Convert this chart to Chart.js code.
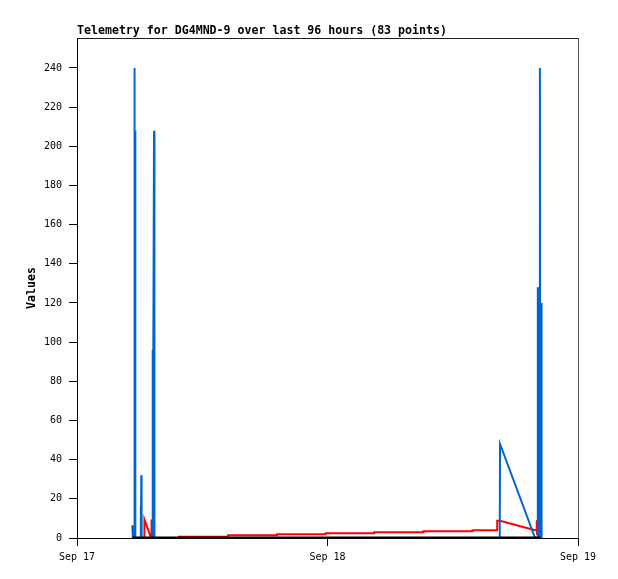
<!DOCTYPE html>
<html>
<head>
<meta charset="utf-8">
<script src="https://cdn.jsdelivr.net/npm/chart.js@4/dist/chart.umd.min.js"></script>
<style>
  html, body { margin: 0; padding: 0; background: #fff; }
  canvas { display: block; }
</style>
</head>
<body>
<canvas id="c" width="618" height="579"></canvas>
<script>
// Time is in hours since Sep 17 00:00
const chartTitle = 'Telemetry for DG4MND-9 over last 96 hours (83 points)';
const yAxisLabel = 'Values';
const xTickHours = [0, 24, 48];
const xTickLabels = ['Sep 17', 'Sep 18', 'Sep 19'];
const yTickValues = [0, 20, 40, 60, 80, 100, 120, 140, 160, 180, 200, 220, 240];

const blueHours  = [5.30, 5.33, 5.36, 5.47, 5.50, 5.53, 5.56, 5.59, 6.08, 6.10, 6.13, 6.16, 6.19, 7.21, 7.24, 7.27, 7.38, 7.42, 40.50, 40.53, 43.89, 44.12, 44.15, 44.19, 44.23, 44.27, 44.35, 44.38, 44.48, 44.51];
const blueValues = [0,    6,    0,    0,    240,  0,    208,  0,    0,    16,   0,    32,   0,    0,    96,   0,    208,  0,    0,     48,    0,     0,     128,   0,     128,   0,     240,   0,     120,   0];

const redHours  = [5.31, 5.34, 5.38, 6.44, 6.46, 7.10, 7.13, 7.16, 9.75, 9.77, 14.45, 14.47, 19.16, 19.17, 23.80, 23.82, 28.46, 28.48, 33.17, 33.19, 37.87, 37.89, 40.24, 40.26, 40.53, 43.89, 44.03, 44.05, 44.08];
const redValues = [6.5,  3.5,  0,    0,    9.5,  0,    9.5,  0,    0,    0.7,  0.7,   1.4,   1.4,   1.9,   1.9,   2.4,   2.4,   2.9,   2.9,   3.4,   3.4,   3.9,   3.9,   8.8,   8.8,   4.0,   4.0,   9.0,   1.5];

const zeroHours  = [5.31, 7.16, 9.75, 19.16, 28.46, 37.87, 40.50, 43.89, 44.40];
const zeroValues = [0,    0,    0,    0,     0,     0,     0,     0,     0];

const toPoints = (xs, ys) => xs.map((x, i) => ({ x: x, y: ys[i] }));

const FONT = '"DejaVu Sans Mono", "Liberation Mono", monospace';

const decorations = {
  id: 'decorations',
  beforeDatasetsDraw(chart) {
    const { ctx, chartArea: a } = chart;
    ctx.save();
    ctx.lineWidth = 1;
    ctx.strokeStyle = '#202020';
    ctx.beginPath();
    ctx.moveTo(a.left, a.top + 0.5);
    ctx.lineTo(a.right + 0.5, a.top + 0.5);
    ctx.stroke();
    ctx.strokeStyle = '#505050';
    ctx.beginPath();
    ctx.moveTo(a.right + 0.5, a.top + 0.5);
    ctx.lineTo(a.right + 0.5, a.bottom);
    ctx.stroke();
    ctx.restore();
  },
  afterDraw(chart) {
    const { ctx, chartArea: a } = chart;
    ctx.save();
    ctx.fillStyle = '#000';
    ctx.font = 'bold 11.6px ' + FONT;
    ctx.textAlign = 'left';
    ctx.textBaseline = 'alphabetic';
    ctx.fillText(chartTitle, a.left, 34);
    ctx.translate(32, (a.top + a.bottom) / 2);
    ctx.rotate(-Math.PI / 2);
    ctx.textAlign = 'center';
    ctx.textBaseline = 'middle';
    ctx.fillText(yAxisLabel, 0, 0);
    ctx.restore();
  }
};

new Chart(document.getElementById('c'), {
  type: 'line',
  data: {
    datasets: [
      { label: 'zero', data: toPoints(zeroHours, zeroValues), borderColor: '#000000', borderWidth: 3, order: 0 },
      { label: 'blue', data: toPoints(blueHours, blueValues), borderColor: '#0066cc', borderWidth: 2, order: 1 },
      { label: 'red',  data: toPoints(redHours, redValues),   borderColor: '#ff0000', borderWidth: 2, order: 2 }
    ]
  },
  options: {
    responsive: false,
    animation: false,
    devicePixelRatio: 1,
    elements: { point: { radius: 0, hoverRadius: 0 }, line: { tension: 0, fill: false } },
    layout: { padding: { left: 0, right: 40, top: 38, bottom: 0 } },
    plugins: { legend: { display: false }, title: { display: false }, tooltip: { enabled: false } },
    scales: {
      x: {
        type: 'linear',
        min: 0, max: 48,
        afterFit(scale) { scale.height = 41; },
        afterBuildTicks(scale) { scale.ticks = xTickHours.map(v => ({ value: v })); },
        ticks: {
          autoSkip: false,
          maxRotation: 0,
          color: '#000',
          padding: 5,
          font: { family: FONT, size: 10 },
          callback: (v) => { const i = xTickHours.indexOf(v); return i >= 0 ? xTickLabels[i] : ''; }
        },
        grid: { drawOnChartArea: false, drawTicks: true, tickLength: 8, color: '#000' },
        border: { display: true, color: '#000', width: 1 }
      },
      y: {
        type: 'linear',
        min: 0, max: 255.3,
        afterFit(scale) { scale.width = 77; },
        afterBuildTicks(scale) { scale.ticks = yTickValues.map(v => ({ value: v })); },
        ticks: {
          color: '#000',
          padding: 7,
          font: { family: FONT, size: 10 }
        },
        grid: { drawOnChartArea: false, drawTicks: true, tickLength: 8, color: '#000' },
        border: { display: true, color: '#000', width: 1 }
      }
    }
  },
  plugins: [decorations]
});
</script>
</body>
</html>
